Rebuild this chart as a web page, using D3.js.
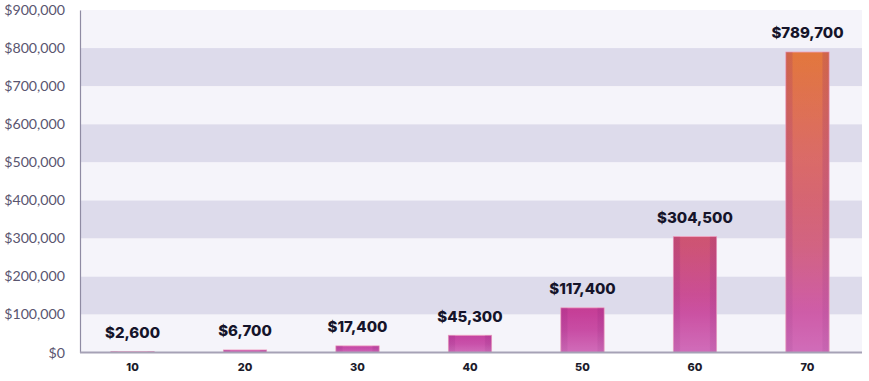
<!DOCTYPE html>
<html><head><meta charset="utf-8">
<script src="https://cdn.jsdelivr.net/npm/d3@7"></script>
<style>body{margin:0;background:#fff}svg{display:block}</style>
</head><body><svg id="c" width="869" height="381"></svg>
<script>
const categories = ["10","20","30","40","50","60","70"];
const values = [2600, 6700, 17400, 45300, 117400, 304500, 789700];
const yTicks = [0,100000,200000,300000,400000,500000,600000,700000,800000,900000];

const svg = d3.select("#c");
const pLeft = 80, pRight = 862, pTop = 10, pBottom = 352.5;
const x = d3.scaleBand().domain(categories).range([76, 864]).paddingInner(0.615).paddingOuter(0.31);
const y = d3.scaleLinear().domain([0, 900000]).range([pBottom, pTop]);

const defs = svg.append("defs");
const g1 = defs.append("linearGradient").attr("id","main").attr("gradientUnits","userSpaceOnUse")
  .attr("x1",0).attr("x2",0).attr("y1",y(0)).attr("y2",y(800000));
[[0,"#c548a8"],[0.13,"#c53d97"],[0.35,"#cd5274"],[0.65,"#d96560"],[1,"#e3783b"]]
  .forEach(([o,c])=>g1.append("stop").attr("offset",o).attr("stop-color",c));
const g2 = defs.append("linearGradient").attr("id","edge").attr("x1",0).attr("x2",1).attr("y1",0).attr("y2",0);
[[0,0.22],[0.14,0.18],[0.17,0],[0.83,0],[0.86,0.18],[1,0.22]]
  .forEach(([o,a])=>g2.append("stop").attr("offset",o).attr("stop-color","#8a1f7a").attr("stop-opacity",a));
const g3 = defs.append("linearGradient").attr("id","light").attr("x1",0).attr("x2",0).attr("y1",0).attr("y2",1);
[[0,0],[0.5,0.06],[1,0.2]]
  .forEach(([o,a])=>g3.append("stop").attr("offset",o).attr("stop-color","#ffffff").attr("stop-opacity",a));

// bands
const bands = d3.range(0, 9).map(i => i*100000);
svg.append("g").selectAll("rect").data(bands).join("rect")
  .attr("x", pLeft).attr("width", pRight-pLeft)
  .attr("y", d => y(d+100000)).attr("height", d => y(d) - y(d+100000))
  .attr("fill", (d,i) => (i%2===1) ? "#dddbeb" : "#f5f4fa");

// y axis
const ya = svg.append("g").attr("transform",`translate(${pLeft},0)`)
  .call(d3.axisLeft(y).tickValues(yTicks).tickSize(0).tickPadding(15).tickFormat(d=>"$"+d3.format(",")(d)));
ya.select(".domain").attr("stroke","#8f8ba3").attr("stroke-width",1.2);
ya.selectAll("text").attr("font-family","Lato, 'Noto Sans', sans-serif").attr("font-size",14.2).attr("fill","#5a556f");

// bars
const bars = svg.append("g").selectAll("g").data(values).join("g");
bars.append("rect").attr("x",(d,i)=>x(categories[i])).attr("width",x.bandwidth())
  .attr("y",d=>y(d)).attr("height",d=>y(0)-y(d)).attr("fill","url(#main)")
  .attr("stroke","#f2a6c4").attr("stroke-width",0.8);
bars.append("rect").attr("x",(d,i)=>x(categories[i])).attr("width",x.bandwidth())
  .attr("y",d=>y(d)).attr("height",d=>y(0)-y(d)).attr("fill","url(#edge)");
bars.append("rect").attr("x",(d,i)=>x(categories[i])).attr("width",x.bandwidth())
  .attr("y",d=>y(d)).attr("height",d=>y(0)-y(d)).attr("fill","url(#light)");

// x axis
const xa = svg.append("g").attr("transform",`translate(0,${pBottom})`)
  .call(d3.axisBottom(x).tickSize(0).tickPadding(11));
xa.select(".domain").attr("d",`M${pLeft},0H${pRight}`).attr("stroke","#a6a2b6").attr("stroke-width",2);
xa.selectAll("text").attr("font-family","Inter, sans-serif").attr("font-weight",800).attr("font-size",11).attr("fill","#1c1b2b");

// value labels
svg.append("g").selectAll("text").data(values).join("text")
  .attr("x",(d,i)=>x(categories[i])+x.bandwidth()/2).attr("y",d=>y(d)-13.5)
  .attr("text-anchor","middle").attr("font-family","Inter, sans-serif").attr("font-weight",800)
  .attr("font-size",15).attr("fill","#15142a")
  .text(d=>"$"+d3.format(",")(d));
</script></body></html>
